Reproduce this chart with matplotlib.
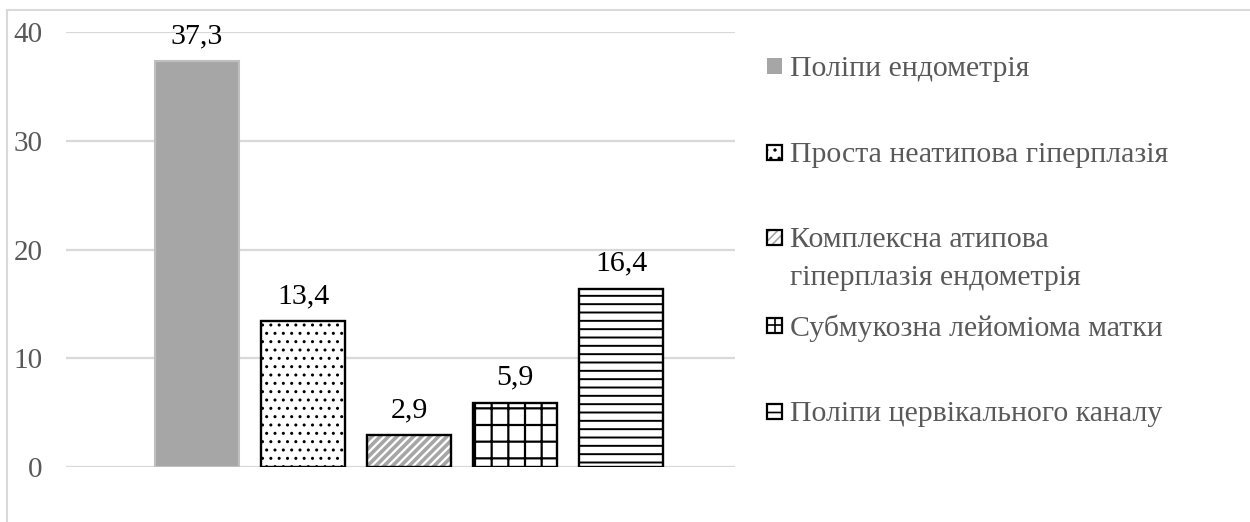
import matplotlib
matplotlib.use('Agg')
import matplotlib.pyplot as plt
from matplotlib.patches import Rectangle
from matplotlib.lines import Line2D

series = ['Поліпи ендометрія',
          'Проста неатипова гіперплазія',
          'Комплексна атипова\nгіперплазія ендометрія',
          'Субмукозна лейоміома матки',
          'Поліпи цервікального каналу']
values = [37.3, 13.4, 2.9, 5.9, 16.4]
value_labels = ['37,3', '13,4', '2,9', '5,9', '16,4']
yticks = [0, 10, 20, 30, 40]

plt.rcParams['font.family'] = ['Liberation Serif', 'DejaVu Serif']

W, H = 1250, 522
fig = plt.figure(figsize=(W / 100, H / 100), dpi=100)
ax = fig.add_axes([66 / W, 1 - 467 / H, (735 - 66) / W, (467 - 32) / H])

styles = [
    dict(face='#a6a6a6', hatch=None, hc=None, edge='#bfbfbf', hlw=1.0),
    dict(face='white', hatch='..', hc='black', edge='black', hlw=1.0),
    dict(face='white', hatch='////', hc='#a6a6a6', edge='black', hlw=2.6),
    dict(face='white', hatch='+', hc='black', edge='black', hlw=1.6),
    dict(face='white', hatch='--', hc='black', edge='black', hlw=1.4),
]

bw = 0.79
for i, (v, st) in enumerate(zip(values, styles)):
    if st['hatch'] is None:
        ax.bar(i, v, width=bw, color=st['face'], edgecolor=st['edge'],
               linewidth=1.5, zorder=3)
    else:
        with plt.rc_context({'hatch.linewidth': st['hlw']}):
            b = ax.bar(i, v, width=bw, color=st['face'], edgecolor=st['hc'],
                       linewidth=0, hatch=st['hatch'], zorder=3)
            for p in b:
                if hasattr(p, 'set_hatch_linewidth'):
                    p.set_hatch_linewidth(st['hlw'])
        ax.bar(i, v, width=bw, fill=False, edgecolor=st['edge'],
               linewidth=1.7, zorder=4)
    ax.annotate(value_labels[i], (i, v), xytext=(0, 13), textcoords='offset points',
                ha='center', va='baseline', fontsize=21.5, color='black')

ax.set_xlim(-1.236, 5.075)
ax.set_ylim(0, 40)
ax.set_yticks(yticks)
ax.set_yticklabels([str(t) for t in yticks])
ax.set_xticks([])
ax.tick_params(axis='y', length=0, pad=17, labelsize=21, labelcolor='#595959')
for s in ax.spines.values():
    s.set_visible(False)
ax.set_axisbelow(True)
ax.grid(axis='y', color='#d9d9d9', linewidth=1.6)

# legend (manual, Excel style)
leg_y = [66, 152, 237, 325, 411]
line_gap = 38
for i, st in enumerate(styles):
    yc = leg_y[i]
    x0, s = 767, 15
    rect_kw = dict(transform=fig.transFigure, figure=fig)
    xy = (x0 / W, 1 - (yc + s / 2) / H)
    if st['hatch'] is None:
        fig.add_artist(Rectangle(xy, s / W, s / H, facecolor=st['face'],
                                 edgecolor='none', **rect_kw))
    else:
        with plt.rc_context({'hatch.linewidth': 1.2}):
            r = Rectangle(xy, s / W, s / H, facecolor='white', edgecolor=st['hc'],
                          linewidth=0, hatch=st['hatch'], **rect_kw)
            fig.add_artist(r)
        fig.add_artist(Rectangle(xy, s / W, s / H, fill=False, edgecolor='black',
                                 linewidth=1.6, **rect_kw))
    for k, line in enumerate(series[i].split('\n')):
        fig.text(790 / W, 1 - (yc + k * line_gap) / H, line, ha='left',
                 va='center_baseline', fontsize=21.5, color='#595959')

# outer chart frame
fc = '#d9d9d9'
fig.add_artist(Line2D([7 / W, 7 / W], [1 - 10 / H, 0], color=fc, lw=1.5,
                      transform=fig.transFigure))
fig.add_artist(Line2D([7 / W, 1], [1 - 10 / H, 1 - 10 / H], color=fc, lw=1.5,
                      transform=fig.transFigure))

fig.savefig('out.png', dpi=100, facecolor='white')
